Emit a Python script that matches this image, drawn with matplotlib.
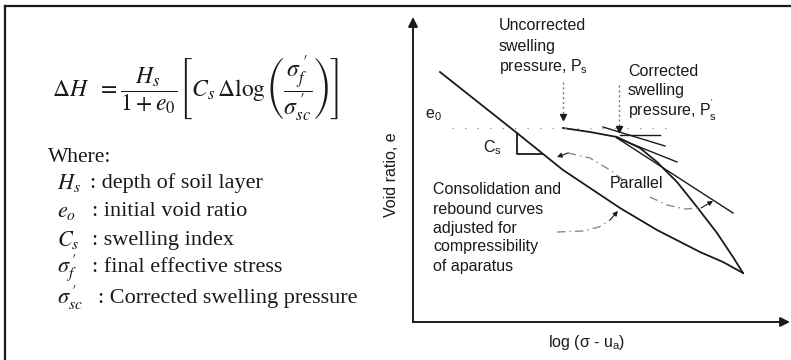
import matplotlib
matplotlib.use('Agg')
import matplotlib.pyplot as plt
from matplotlib.lines import Line2D

W, H = 791, 360          # output size in pixels
INK = '#1a1a1a'
LEAD = '#8a8a8a'

# ---- diagram data (units = pixels from the axes origin) ----
# consolidation / loading curve
consol_x = [27, 104, 150, 177, 207, 244, 287, 310, 330]
consol_y = [250, 189, 152, 134, 114, 92, 70, 60, 49]
# curve starting at the swelling pressure, running down to the end point
rebound_x = [150, 177, 204, 227, 244, 264, 284, 304, 320, 330]
rebound_y = [194, 190, 185, 174, 160, 140, 115, 89, 65, 49]
# construction lines at the corrected swelling pressure
tangent_x = [[207, 247], [190, 252], [204, 264], [204, 320]]
tangent_y = [[187, 187], [195, 176], [184, 160], [184, 109]]
e0_level = 194
e0_span = [39, 260]
cs_tri_x = [104, 104, 129]
cs_tri_y = [189, 168, 168]
ps_uncorr = [150, 240, 202]   # x, y from, y to
ps_corr = [206, 237, 190]
# grey leader curves (label -> line)
lead1_x = [210, 197, 177, 155, 144]
lead1_y = [142, 152, 164, 169, 165]
lead2_x = [237, 254, 272, 288, 300]
lead2_y = [125, 117, 113, 114, 121]
lead3_x = [144, 170, 186, 197, 205]
lead3_y = [90, 91, 95, 102, 111]

# ---- left side text ----
formula = (r'$\Delta H\ \ =\dfrac{H_s}{1+e_0}\left[C_s\,\Delta\log\left('
           r'\dfrac{\sigma_f^{\,\prime}}{\sigma_{sc}^{\,\prime}}\right)\right]$')
where_sym = [r'$H_s$', r'$e_o$', r'$C_s$', r'$\sigma_f^{\,\prime}$', r'$\sigma_{sc}^{\,\prime}$']
where_txt = [': depth of soil layer', ': initial void ratio', ': swelling index',
             ': final effective stress', ': Corrected swelling pressure']
where_y = [183, 212, 240, 268, 298]
where_tx = [90, 92, 92, 92, 98]

# ---- right side labels ----
uncorr_lines = ['Uncorrected', 'swelling', r'pressure, P$_\mathregular{s}$']
corr_lines = ['Corrected', 'swelling', r"pressure, P$_\mathregular{s}^\mathregular{'}$"]
consol_lines = ['Consolidation and', 'rebound curves', 'adjusted for',
                'compressibility', 'of aparatus']


def fx(px):
    return px / W


def fy(py):
    return 1 - py / H


fig = plt.figure(figsize=(W / 100, H / 100), dpi=100)

# frame (left and top edges only are visible)
fig.add_artist(Line2D([fx(5), fx(5)], [fy(6), 0], color=INK, lw=1.6))
fig.add_artist(Line2D([fx(5), 1], [fy(6), fy(6)], color=INK, lw=1.6))

fig.text(fx(52), fy(89), formula, fontsize=17, math_fontfamily='stix',
         va='center', ha='left', color=INK)
fig.text(fx(48), fy(157), 'Where:', fontsize=15.5, family='Liberation Serif',
         va='center', color=INK)
for s, t, y, tx in zip(where_sym, where_txt, where_y, where_tx):
    fig.text(fx(57), fy(y), s, fontsize=16, math_fontfamily='stix',
             va='center', color=INK)
    fig.text(fx(tx), fy(y), t, fontsize=16, family='Liberation Serif',
             va='center', color=INK)

# diagram axes, origin at pixel (413, 322)
ax = fig.add_axes([fx(413), fy(322), 377 / W, 305 / H])
ax.set_xlim(0, 377)
ax.set_ylim(0, 305)
ax.axis('off')

arrow = dict(arrowstyle='-|>', color=INK, lw=1.4, mutation_scale=14, shrinkA=0, shrinkB=0)
ax.annotate('', xy=(0, 305), xytext=(0, 0), arrowprops=arrow, annotation_clip=False)
ax.annotate('', xy=(377, 0), xytext=(0, 0), arrowprops=arrow, annotation_clip=False)

ax.plot(consol_x, consol_y, color=INK, lw=1.3)
ax.plot(rebound_x, rebound_y, color=INK, lw=1.3)
for tx, ty in zip(tangent_x, tangent_y):
    ax.plot(tx, ty, color=INK, lw=1.0)
ax.plot(e0_span, [e0_level, e0_level], color='#999999', lw=1.0, ls=(0, (1, 8)))
ax.plot(cs_tri_x, cs_tri_y, color=INK, lw=1.3)

for x, y0, y1 in (ps_uncorr, ps_corr):
    ax.plot([x, x], [y0, y1 + 4], color='#777777', lw=1.0, ls=(0, (1.5, 2)))
    ax.plot(x, y1 + 3, marker='v', ms=5, color=INK, mec=INK)

for lx, ly in ((lead1_x, lead1_y), (lead2_x, lead2_y), (lead3_x, lead3_y)):
    ax.plot(lx[:-1], ly[:-1], color=LEAD, lw=1.0, ls=(0, (6, 3, 1, 3)))
    ax.annotate('', xy=(lx[-1], ly[-1]), xytext=(lx[-2], ly[-2]),
                arrowprops=dict(arrowstyle='-|>', color=INK, lw=0.8,
                                mutation_scale=7, shrinkA=0, shrinkB=0))

sans = dict(family='Liberation Sans', fontsize=11.5, color=INK, va='center',
            math_fontfamily='dejavusans')
for i, s in enumerate(uncorr_lines):
    ax.text(86, 297 - i * 21, s, **sans)
for i, s in enumerate(corr_lines):
    ax.text(215, 250 - i * 19, s, **sans)
for i, s in enumerate(consol_lines):
    ax.text(20, 132 - i * 19, s, **sans)
ax.text(197, 139, 'Parallel', **sans)
ax.text(12, 207, r'e$_\mathregular{0}$', **sans)
ax.text(70, 174, r'C$_\mathregular{s}$', **sans)

ax.text(-22, 147, 'Void ratio, e', rotation=90, ha='center', **sans)
ax.text(174, -21, r'log (σ - u$_\mathregular{a}$)', ha='center', **sans)

fig.savefig('out.png', dpi=100)
